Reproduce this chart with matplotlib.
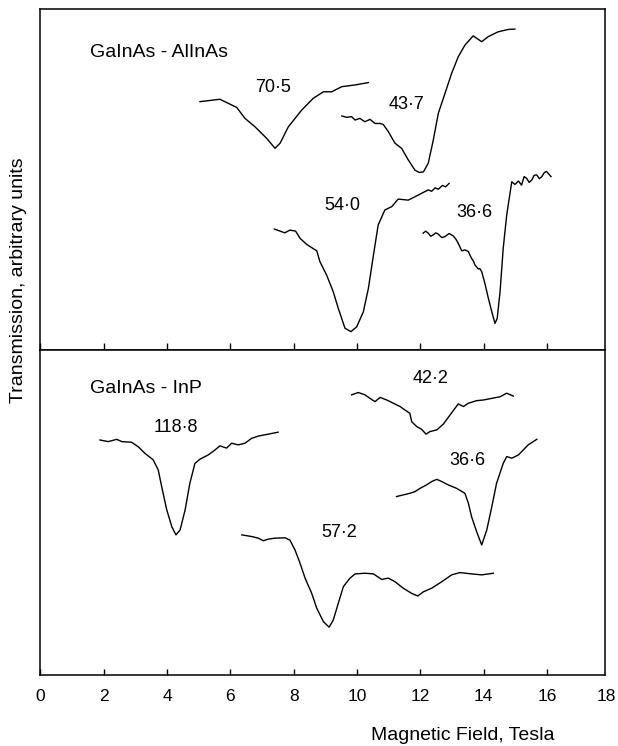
import matplotlib
matplotlib.use("Agg")
import matplotlib.pyplot as plt

# magnetic field in Tesla, transmission in arbitrary units (0-100 per panel)

# GaInAs - AlInAs
field_705 = [5.04, 5.67, 6.20, 6.46, 6.78, 7.15, 7.41, 7.57, 7.83, 8.25, 8.62, 8.94, 9.20, 9.52, 9.94, 10.36]
trans_705 = [72.9, 73.6, 71.2, 68.0, 65.5, 62.1, 59.2, 60.7, 65.5, 70.4, 73.9, 75.8, 75.8, 77.3, 77.8, 78.5]

field_437 = [9.52, 9.67, 9.83, 9.94, 10.09, 10.25, 10.41, 10.57, 10.73, 10.83, 10.99, 11.20, 11.41, 11.62,
             11.83, 11.97, 12.10, 12.25, 12.41, 12.57, 12.78, 12.99, 13.20, 13.41, 13.67, 13.94, 14.15,
             14.46, 14.78, 14.99]
trans_437 = [68.7, 68.3, 68.5, 67.5, 68.0, 67.0, 67.7, 66.5, 66.5, 66.2, 64.1, 60.7, 59.2, 55.8,
             52.8, 52.1, 52.3, 54.8, 61.6, 69.5, 75.3, 81.2, 86.1, 89.5, 92.2, 90.5, 92.0,
             93.4, 94.1, 94.2]

field_540 = [7.39, 7.57, 7.72, 7.88, 8.06, 8.20, 8.41, 8.73, 8.83, 9.04, 9.25, 9.41, 9.62, 9.81, 9.99,
             10.20, 10.36, 10.52, 10.67, 10.88, 11.10, 11.30, 11.62, 11.94, 12.25, 12.36, 12.47, 12.57,
             12.70, 12.80, 12.91]
trans_540 = [35.5, 34.9, 34.4, 35.2, 34.9, 32.8, 31.0, 29.1, 25.9, 22.0, 17.1, 12.2, 6.4, 5.4, 6.8,
             11.2, 18.1, 27.9, 36.7, 41.1, 42.1, 44.3, 44.0, 45.5, 47.0, 46.6, 47.6, 47.2,
             48.3, 47.9, 48.9]

field_366a = [12.09, 12.17, 12.25, 12.33, 12.41, 12.49, 12.57, 12.68, 12.78, 12.91, 13.04, 13.12, 13.20,
              13.31, 13.41, 13.52, 13.57, 13.62, 13.68, 13.73, 13.78, 13.83, 13.88, 13.94, 14.04, 14.15,
              14.26, 14.36, 14.43, 14.52, 14.62, 14.73, 14.89, 14.99, 15.10, 15.20, 15.28, 15.36, 15.44,
              15.52, 15.60, 15.68, 15.76, 15.84, 15.92, 15.99, 16.13]
trans_366a = [34.3, 34.9, 34.3, 33.4, 33.8, 34.4, 34.0, 33.0, 33.3, 34.2, 33.5, 32.6, 31.3,
              29.1, 29.4, 28.9, 27.8, 26.9, 26.1, 24.9, 24.4, 23.8, 23.9, 23.0, 19.6, 15.2,
              11.2, 7.8, 9.3, 17.1, 29.9, 39.6, 49.4, 48.6, 49.6, 48.4, 50.9, 50.4, 49.2,
              49.9, 51.3, 51.4, 50.3, 50.9, 52.1, 52.4, 50.9]

# GaInAs - InP
field_1188 = [1.88, 2.14, 2.41, 2.57, 2.88, 3.09, 3.30, 3.56, 3.72, 3.83, 3.99, 4.15, 4.28, 4.41, 4.57,
              4.72, 4.88, 5.04, 5.30, 5.51, 5.67, 5.88, 6.04, 6.25, 6.46, 6.67, 6.88, 7.20, 7.51]
trans_1188 = [72.3, 71.8, 72.5, 71.8, 71.6, 70.2, 68.2, 66.2, 63.1, 57.9, 50.8, 45.6, 43.1, 44.6, 50.8,
              59.0, 65.1, 66.4, 67.7, 69.2, 70.5, 69.8, 71.3, 70.8, 71.3, 72.8, 73.5, 74.1, 74.7]

field_422 = [9.83, 10.04, 10.25, 10.41, 10.57, 10.73, 10.94, 11.15, 11.36, 11.52, 11.67, 11.73, 11.89,
             12.04, 12.18, 12.31, 12.52, 12.73, 12.94, 13.10, 13.20, 13.36, 13.52, 13.78, 13.99, 14.26,
             14.52, 14.73, 14.94]
trans_422 = [86.2, 86.9, 86.2, 85.1, 84.1, 85.4, 84.6, 83.6, 82.6, 81.5, 80.5, 77.9, 76.4,
             75.6, 74.1, 74.9, 75.4, 77.2, 80.0, 82.1, 83.4, 82.6, 83.6, 84.4, 84.6, 85.1,
             85.6, 86.7, 85.8]

field_366b = [11.25, 11.46, 11.67, 11.83, 11.99, 12.20, 12.36, 12.52, 12.68, 12.88, 13.15, 13.41, 13.52,
              13.62, 13.78, 13.94, 14.10, 14.26, 14.41, 14.62, 14.73, 14.89, 15.10, 15.25, 15.41, 15.68]
trans_366b = [54.9, 55.4, 55.9, 56.4, 57.4, 58.5, 59.5, 60.2, 59.5, 58.5, 57.4, 55.9, 52.8,
              48.7, 44.1, 40.0, 44.6, 51.8, 59.0, 65.1, 67.2, 66.7, 67.7, 69.2, 70.8, 72.5]

field_572 = [6.36, 6.67, 6.88, 7.04, 7.20, 7.41, 7.73, 7.88, 8.04, 8.20, 8.36, 8.57, 8.73, 8.94, 9.12,
             9.25, 9.41, 9.57, 9.78, 9.94, 10.25, 10.52, 10.78, 10.99, 11.20, 11.46, 11.73, 11.92,
             12.10, 12.36, 12.68, 12.99, 13.25, 13.62, 13.94, 14.31]
trans_572 = [43.1, 42.6, 42.1, 41.3, 41.8, 42.1, 42.2, 41.5, 38.5, 34.4, 29.8, 25.1, 20.5, 16.4, 14.7,
             16.9, 22.1, 27.2, 29.8, 31.1, 31.3, 31.1, 29.4, 29.8, 28.7, 26.7, 25.1, 24.3,
             25.6, 26.7, 28.7, 30.8, 31.5, 31.1, 30.8, 31.3]

tick_values = [0, 2, 4, 6, 8, 10, 12, 14, 16]
tick_labels = ["0", "2", "4", "6", "8", "10", "12", "14", "16"]

plt.rcParams["font.family"] = ["Liberation Sans", "DejaVu Sans"]

fig = plt.figure(figsize=(6.18, 7.46), dpi=100)
ax_top = fig.add_axes([0.0655, 0.5308, 0.9142, 0.4567])
ax_bot = fig.add_axes([0.0655, 0.0952, 0.9142, 0.4357])

line_kw = dict(color="black", linewidth=1.0)
ax_top.plot(field_705, trans_705, **line_kw)
ax_top.plot(field_437, trans_437, **line_kw)
ax_top.plot(field_540, trans_540, **line_kw)
ax_top.plot(field_366a, trans_366a, **line_kw)

ax_bot.plot(field_1188, trans_1188, **line_kw)
ax_bot.plot(field_422, trans_422, **line_kw)
ax_bot.plot(field_366b, trans_366b, **line_kw)
ax_bot.plot(field_572, trans_572, **line_kw)

lab_kw = dict(fontsize=13, ha="center", va="baseline")
ax_top.text(7.35, 75.8, "70·5", **lab_kw)
ax_top.text(11.57, 70.6, "43·7", **lab_kw)
ax_top.text(9.54, 41.1, "54·0", **lab_kw)
ax_top.text(13.70, 39.1, "36·6", **lab_kw)

ax_bot.text(4.27, 74.9, "118·8", **lab_kw)
ax_bot.text(12.31, 89.8, "42·2", **lab_kw)
ax_bot.text(13.49, 64.6, "36·6", **lab_kw)
ax_bot.text(9.43, 42.6, "57·2", **lab_kw)

ax_top.text(0.0876, 0.861, "GaInAs - AlInAs", transform=ax_top.transAxes, fontsize=14, va="baseline")
ax_bot.text(0.0876, 0.8667, "GaInAs - InP", transform=ax_bot.transAxes, fontsize=14, va="baseline")

for ax in (ax_top, ax_bot):
    ax.set_xlim(0, 17.85)
    ax.set_ylim(0, 100)
    ax.set_yticks([])
    ax.set_xticks(tick_values)
    for sp in ax.spines.values():
        sp.set_linewidth(1.1)

ax_top.tick_params(axis="x", direction="in", length=5, width=1.0, labelbottom=False)
ax_bot.tick_params(axis="x", direction="in", length=4.5, width=1.0, pad=10, labelsize=12.5)
ax_bot.set_xticklabels(tick_labels)
# the 18 label sits just past the right edge of the frame
ax_bot.annotate("18", xy=(18, 0), xycoords=("data", "axes fraction"), xytext=(-2.5, -10),
                textcoords="offset points", ha="center", va="top", fontsize=12.5,
                annotation_clip=False)

fig.text(19 / 618, 1 - 280 / 746, "Transmission, arbitrary units", rotation=90,
         ha="center", va="center", fontsize=14)
fig.text(463 / 618, 0.008, "Magnetic Field, Tesla", ha="center", va="baseline", fontsize=14)

fig.savefig("out.png", dpi=100)
